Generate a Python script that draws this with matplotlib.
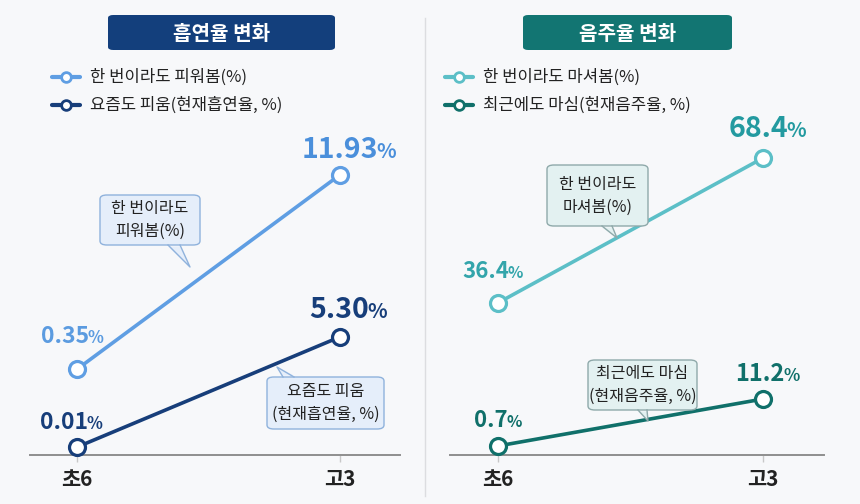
import matplotlib
matplotlib.use("Agg")
import matplotlib.pyplot as plt
from matplotlib.patches import FancyBboxPatch, Polygon
from matplotlib.lines import Line2D

FONT = ['Noto Sans CJK KR', 'DejaVu Sans']
plt.rcParams['font.family'] = FONT

# ---------------- data ----------------
categories = ['초6', '고3']
smoke_ever = [0.35, 11.93]
smoke_current = [0.01, 5.30]
drink_ever = [36.4, 68.4]
drink_current = [0.7, 11.2]

smoke_title = '흡연율 변화'
drink_title = '음주율 변화'
smoke_legend = ['한 번이라도 피워봄(%)', '요즘도 피움(현재흡연율, %)']
drink_legend = ['한 번이라도 마셔봄(%)', '최근에도 마심(현재음주율, %)']
smoke_callouts = ['한 번이라도\n피워봄(%)', '요즘도 피움\n(현재흡연율, %)']
drink_callouts = ['한 번이라도\n마셔봄(%)', '최근에도 마심\n(현재음주율, %)']

# ---------------- style ----------------
BG = '#f7f8fa'
C_LBLUE = '#5f9ee3'
C_NAVY = '#173e7a'
C_LTEAL = '#5cbfc7'
C_DTEAL = '#10706a'
W, H = 860, 504

fig = plt.figure(figsize=(W / 100, H / 100), dpi=100, facecolor=BG)


def fx(px):
    return px / W


def fy(py):
    return 1 - py / H


def make_axes(x0, x1):
    ax = fig.add_axes([fx(x0), fy(455), fx(x1) - fx(x0), fy(130) - fy(455)])
    ax.patch.set_alpha(0)
    axb = ax.twinx()
    axb.patch.set_alpha(0)
    for a in (ax, axb):
        for s in ('left', 'right', 'top'):
            a.spines[s].set_visible(False)
        a.set_yticks([])
    axb.spines['bottom'].set_visible(False)
    ax.spines['bottom'].set_color('#8f8f8f')
    ax.spines['bottom'].set_linewidth(1.4)
    ax.set_xlim(-0.18, 1.23)
    ax.set_xticks(range(len(categories)))
    ax.set_xticklabels(categories, fontsize=15, fontweight='bold', color='#222222')
    ax.tick_params(axis='x', length=5, width=1, color='#c8c8c8', pad=5)
    return ax, axb


def draw_series(ax, values, color):
    ax.plot(range(len(values)), values, color=color, lw=2.6, marker='o',
            markersize=11.5, markerfacecolor='white', markeredgecolor=color,
            markeredgewidth=2.3, solid_capstyle='round', clip_on=False, zorder=3)


def value_label(ax, x, y, text, color, size, dx, dy):
    ax.annotate(text, (x, y), xytext=(dx * 0.72, dy * 0.72), textcoords='offset points',
                ha='right', va='baseline', fontsize=size, color=color,
                fontweight='bold', annotation_clip=False)
    ax.annotate('%', (x, y), xytext=(dx * 0.72 - 1.2, dy * 0.72), textcoords='offset points',
                ha='left', va='baseline', fontsize=size * 0.72, color=color,
                fontweight='bold', annotation_clip=False)


def title_box(x0, x1, text, color):
    box = FancyBboxPatch((fx(x0), fy(50)), fx(x1) - fx(x0), fy(15) - fy(50),
                         boxstyle='round,pad=0,rounding_size=0.006',
                         transform=fig.transFigure, facecolor=color, edgecolor='none')
    fig.add_artist(box)
    fig.text(fx((x0 + x1) / 2), fy(33), text, ha='center', va='center',
             fontsize=14.5, fontweight='bold', color='white')


def legend_item(x, y, text, color):
    fig.add_artist(Line2D([fx(x), fx(x + 28)], [fy(y), fy(y)], transform=fig.transFigure,
                          color=color, lw=3, solid_capstyle='round'))
    fig.add_artist(Line2D([fx(x + 14)], [fy(y)], transform=fig.transFigure, marker='o',
                          markersize=7, markerfacecolor='white', markeredgecolor=color,
                          markeredgewidth=2, linestyle='none'))
    fig.text(fx(x + 38), fy(y), text, ha='left', va='center', fontsize=12,
             color='#222222')


def callout(x0, x1, y0, y1, tail, text, face, edge, tail_up=False):
    box = FancyBboxPatch((fx(x0), fy(y1)), fx(x1) - fx(x0), fy(y0) - fy(y1),
                         boxstyle='round,pad=0,rounding_size=0.008',
                         transform=fig.transFigure, facecolor=face, edgecolor=edge,
                         linewidth=1.0, zorder=5)
    fig.add_artist(box)
    (bx0, bx1, by), (tx, ty) = tail
    shift = 1.5 if tail_up else -1.5
    poly = Polygon([(fx(bx0), fy(by - shift)), (fx(bx1), fy(by - shift)), (fx(tx), fy(ty))],
                   closed=True, transform=fig.transFigure, facecolor=face, edgecolor='none',
                   zorder=6)
    fig.add_artist(poly)
    fig.add_artist(Line2D([fx(bx0), fx(tx), fx(bx1)], [fy(by), fy(ty), fy(by)],
                          transform=fig.transFigure, color=edge, lw=1.0, zorder=7))
    fig.text(fx((x0 + x1) / 2), fy((y0 + y1) / 2), text, ha='center', va='center',
             fontsize=11.5, color='#222222', linespacing=1.45, zorder=8)


# ---------------- left panel: smoking ----------------
axL, axLb = make_axes(30, 400)
axL.set_ylim(-4.78, 14.62)
axLb.set_ylim(-0.375, 15.26)
draw_series(axL, smoke_ever, C_LBLUE)
draw_series(axLb, smoke_current, C_NAVY)
value_label(axL, 0, smoke_ever[0], f'{smoke_ever[0]:.2f}', '#5b9be0', 16.5, 12, 26)
value_label(axL, 1, smoke_ever[1], f'{smoke_ever[1]:.2f}', '#4a8fdb', 20.5, 38, 17)
value_label(axLb, 0, smoke_current[0], f'{smoke_current[0]:.2f}', C_NAVY, 16.5, 11, 18)
value_label(axLb, 1, smoke_current[1], f'{smoke_current[1]:.2f}', C_NAVY, 20.5, 29, 19)

# ---------------- right panel: drinking ----------------
axR, axRb = make_axes(450, 824)
axR.set_ylim(2.85, 74.58)
axRb.set_ylim(-1.31, 71.3)
draw_series(axR, drink_ever, C_LTEAL)
draw_series(axRb, drink_current, C_DTEAL)
value_label(axR, 0, drink_ever[0], f'{drink_ever[0]:.1f}', '#33a5ab', 16, 11, 25)
value_label(axR, 1, drink_ever[1], f'{drink_ever[1]:.1f}', '#239aa0', 20.5, 25, 21)
value_label(axRb, 0, drink_current[0], f'{drink_current[0]:.1f}', C_DTEAL, 16, 10, 19)
value_label(axRb, 1, drink_current[1], f'{drink_current[1]:.1f}', C_DTEAL, 17, 22, 18)

# ---------------- decorations ----------------
fig.add_artist(Line2D([fx(425), fx(425)], [fy(18), fy(496)], transform=fig.transFigure,
                      color='#dcdde0', lw=1))

title_box(108, 335, smoke_title, '#133f7c')
title_box(523, 732, drink_title, '#127572')

legend_item(52, 77, smoke_legend[0], C_LBLUE)
legend_item(52, 105, smoke_legend[1], C_NAVY)
legend_item(445, 77, drink_legend[0], C_LTEAL)
legend_item(445, 105, drink_legend[1], C_DTEAL)

callout(100, 200, 195, 245, ((168, 180, 245), (190, 267)), smoke_callouts[0],
        '#e5eefa', '#8fb2dc')
callout(267, 384, 377, 429, ((283, 294, 377), (277, 367)), smoke_callouts[1],
        '#e5eefa', '#8fb2dc', tail_up=True)
callout(547, 648, 165, 226, ((602, 612, 226), (617, 238)), drink_callouts[0],
        '#e3f1f1', '#8fa9aa')
callout(588, 697, 360, 410, ((638, 647, 410), (648, 421)), drink_callouts[1],
        '#e3f1f1', '#8fa9aa')

fig.savefig('out.png', dpi=100, facecolor=BG)
